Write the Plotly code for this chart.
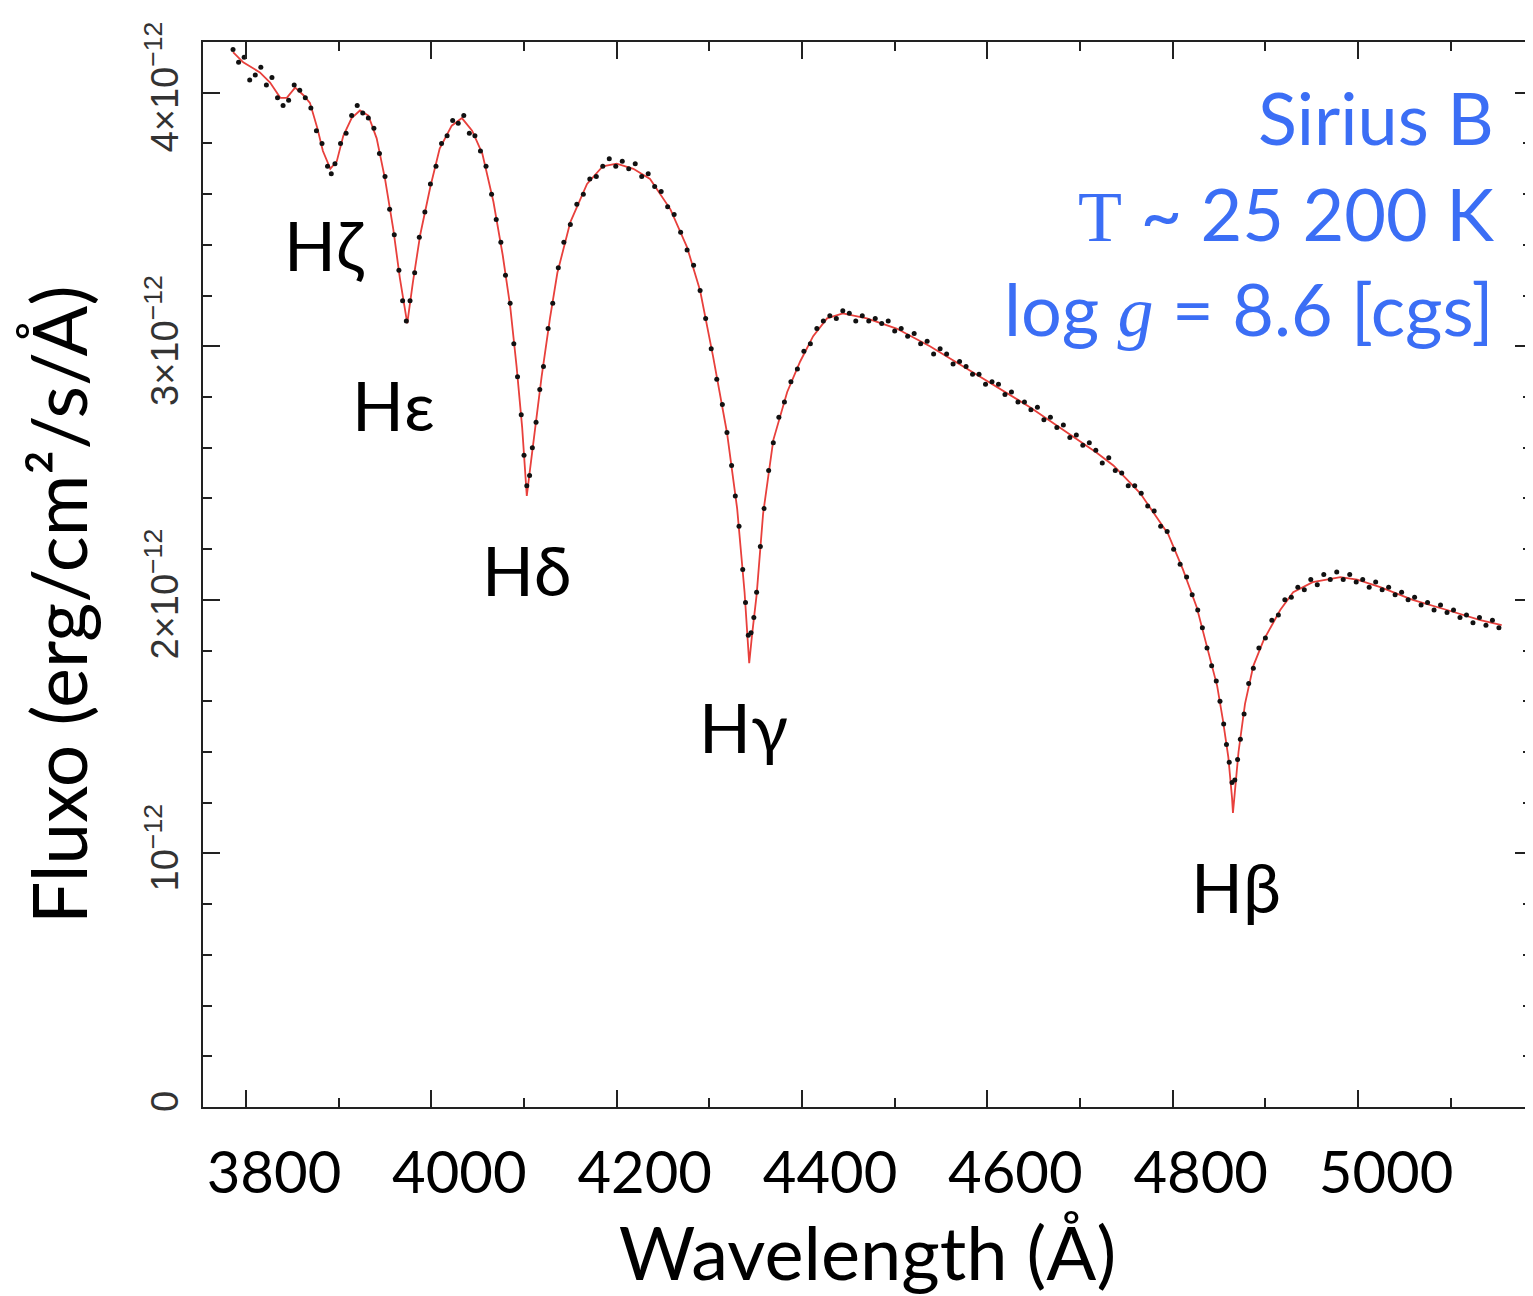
import numpy as np
import plotly.graph_objects as go

# ---------------- data (flux in units of 1e-12 erg/cm2/s/Å) ----------------
model_wl = [3786, 3797, 3815, 3826, 3837, 3844, 3853, 3862, 3869, 3877, 3883, 3891, 3898, 3905,
            3914, 3923, 3932, 3941, 3950, 3959, 3966, 3972, 3974, 3980, 3988, 3999, 4009, 4022,
            4033, 4044, 4055, 4067, 4077, 4085, 4092, 4098, 4101, 4103, 4106, 4110, 4119, 4128,
            4136, 4150, 4168, 4185, 4200, 4218, 4236, 4258, 4276, 4290, 4304, 4319, 4330, 4338,
            4341, 4343, 4346, 4351, 4358, 4369, 4384, 4398, 4412, 4427, 4444, 4470, 4502, 4538,
            4574, 4610, 4646, 4682, 4718, 4736, 4765, 4795, 4811, 4826, 4837, 4848, 4854, 4860,
            4864, 4865, 4867, 4871, 4878, 4887, 4898, 4916, 4930, 4951, 4981, 4999, 5024, 5059,
            5096, 5132, 5155]
model_flux = [4.16, 4.12, 4.08, 4.04, 3.98, 3.98, 4.02, 3.99, 3.96, 3.86, 3.77, 3.70, 3.73, 3.83,
              3.90, 3.93, 3.91, 3.82, 3.66, 3.46, 3.27, 3.12, 3.09, 3.25, 3.44, 3.63, 3.78, 3.87,
              3.90, 3.85, 3.76, 3.57, 3.36, 3.16, 2.92, 2.68, 2.52, 2.41, 2.50, 2.62, 2.88, 3.11,
              3.29, 3.49, 3.64, 3.71, 3.72, 3.70, 3.66, 3.54, 3.39, 3.22, 2.96, 2.66, 2.36, 2.03,
              1.85, 1.75, 1.86, 2.02, 2.34, 2.63, 2.82, 2.94, 3.04, 3.11, 3.13, 3.11, 3.07, 3.00,
              2.92, 2.84, 2.76, 2.67, 2.58, 2.53, 2.42, 2.26, 2.12, 1.97, 1.81, 1.66, 1.53, 1.38,
              1.22, 1.16, 1.24, 1.40, 1.59, 1.74, 1.84, 1.96, 2.03, 2.07, 2.09, 2.08, 2.05, 2.00,
              1.96, 1.92, 1.90]

obs_wl = [3786, 3792, 3798, 3804, 3810, 3816, 3822, 3828, 3834, 3840, 3846, 3852, 3858, 3864,
          3870, 3876, 3882, 3888, 3892, 3896, 3902, 3908, 3914, 3920, 3926, 3932, 3938, 3944,
          3950, 3955, 3960, 3965, 3969, 3973, 3977, 3982, 3987, 3993, 3999, 4005, 4011, 4017,
          4023, 4029, 4035, 4041, 4047, 4053, 4059, 4065, 4070, 4075, 4080, 4085, 4089, 4093,
          4097, 4100, 4103, 4106, 4109, 4113, 4117, 4121, 4126, 4131, 4137, 4143, 4150, 4157,
          4164, 4171, 4178, 4185, 4192, 4199, 4206, 4213, 4220, 4227, 4234, 4241, 4248, 4255,
          4262, 4269, 4276, 4283, 4290, 4296, 4302, 4308, 4314, 4319, 4324, 4328, 4332, 4336,
          4339, 4342, 4345, 4348, 4351, 4355, 4359, 4364, 4369, 4375, 4381, 4388, 4395, 4402,
          4409, 4416, 4423, 4430, 4437, 4444, 4451, 4458, 4465, 4472, 4479, 4486, 4493, 4500,
          4507, 4514, 4521, 4528, 4535, 4542, 4549, 4556, 4563, 4570, 4577, 4584, 4591, 4598,
          4605, 4612, 4619, 4626, 4633, 4640, 4647, 4654, 4661, 4668, 4675, 4682, 4689, 4696,
          4703, 4710, 4717, 4724, 4731, 4738, 4745, 4752, 4759, 4766, 4773, 4780, 4787, 4794,
          4801, 4808, 4815, 4821, 4827, 4832, 4837, 4842, 4847, 4851, 4855, 4858, 4861, 4864,
          4867, 4870, 4873, 4877, 4882, 4887, 4893, 4900, 4907, 4914, 4921, 4928, 4935, 4942,
          4949, 4956, 4963, 4970, 4977, 4984, 4991, 4998, 5005, 5012, 5019, 5026, 5033, 5040,
          5047, 5054, 5061, 5068, 5075, 5082, 5089, 5096, 5103, 5110, 5117, 5124, 5131, 5138,
          5145, 5152]
obs_flux = [4.17, 4.12, 4.14, 4.05, 4.07, 4.10, 4.03, 4.06, 3.98, 3.95, 3.97, 4.03, 4.01, 3.98,
            3.94, 3.85, 3.80, 3.71, 3.68, 3.72, 3.80, 3.84, 3.91, 3.95, 3.92, 3.90, 3.86, 3.76,
            3.67, 3.54, 3.44, 3.30, 3.18, 3.10, 3.18, 3.29, 3.43, 3.53, 3.64, 3.71, 3.80, 3.83,
            3.89, 3.88, 3.91, 3.84, 3.83, 3.77, 3.71, 3.60, 3.50, 3.41, 3.28, 3.17, 3.01, 2.88,
            2.73, 2.57, 2.45, 2.49, 2.60, 2.70, 2.83, 2.92, 3.07, 3.17, 3.31, 3.41, 3.48, 3.56,
            3.60, 3.66, 3.67, 3.71, 3.74, 3.71, 3.73, 3.70, 3.72, 3.67, 3.68, 3.63, 3.61, 3.55,
            3.52, 3.45, 3.38, 3.32, 3.22, 3.11, 2.99, 2.87, 2.77, 2.66, 2.53, 2.41, 2.29, 2.12,
            1.99, 1.86, 1.87, 1.93, 2.03, 2.21, 2.36, 2.51, 2.62, 2.72, 2.78, 2.86, 2.91, 2.98,
            3.01, 3.07, 3.10, 3.12, 3.11, 3.14, 3.13, 3.10, 3.12, 3.10, 3.11, 3.09, 3.10, 3.06,
            3.07, 3.04, 3.05, 3.01, 3.02, 2.97, 2.99, 2.97, 2.93, 2.94, 2.92, 2.89, 2.89, 2.85,
            2.86, 2.85, 2.81, 2.82, 2.78, 2.78, 2.75, 2.76, 2.71, 2.72, 2.68, 2.69, 2.64, 2.65,
            2.61, 2.62, 2.59, 2.54, 2.56, 2.51, 2.50, 2.45, 2.45, 2.42, 2.37, 2.35, 2.29, 2.27,
            2.20, 2.14, 2.09, 2.02, 1.96, 1.89, 1.81, 1.74, 1.68, 1.60, 1.51, 1.43, 1.36, 1.28,
            1.29, 1.37, 1.45, 1.55, 1.67, 1.73, 1.81, 1.85, 1.92, 1.94, 2.00, 2.01, 2.05, 2.04,
            2.08, 2.06, 2.10, 2.08, 2.11, 2.08, 2.10, 2.07, 2.08, 2.05, 2.07, 2.04, 2.05, 2.02,
            2.03, 2.00, 2.01, 1.98, 1.99, 1.96, 1.98, 1.95, 1.96, 1.93, 1.94, 1.91, 1.93, 1.90,
            1.92, 1.89]

line_labels = ["Hζ", "Hε", "Hδ", "Hγ", "Hβ"]
label_wl = [3884, 3959, 4103, 4337, 4868]
label_flux = [3.40, 2.77, 2.12, 1.50, 0.87]

x_tickvals = [3800, 4000, 4200, 4400, 4600, 4800, 5000]
y_tickvals = [0, 1, 2, 3, 4]
y_ticktext = ["0", "10<sup>−12</sup>", "2×10<sup>−12</sup>", "3×10<sup>−12</sup>", "4×10<sup>−12</sup>"]

info_lines = ["Sirius B",
              "<span style='font-family:Liberation Serif'>T</span> ~ 25 200 K",
              "log <span style='font-family:Liberation Serif'><i>g</i></span> = 8.6 [cgs]"]

SCALE = 1e-12
m_flux = np.array(model_flux) * SCALE
o_flux = np.array(obs_flux) * SCALE

fig = go.Figure()
fig.add_trace(go.Scatter(x=model_wl, y=m_flux, mode="lines",
                         line=dict(color="#e8403c", width=1.8), name="model",
                         showlegend=False))
fig.add_trace(go.Scatter(x=obs_wl, y=o_flux, mode="markers",
                         marker=dict(color="#111111", size=5), name="observed",
                         showlegend=False))

for t, xw, yf in zip(line_labels, label_wl, label_flux):
    fig.add_annotation(x=xw, y=yf * SCALE, text=t, showarrow=False,
                       xanchor="center", yanchor="middle",
                       font=dict(family="Lato", size=68, color="black"))

info_y = [0.930, 0.839, 0.750]
for t, yy in zip(info_lines, info_y):
    fig.add_annotation(xref="paper", yref="paper", x=0.9729, y=yy, text=t,
                       showarrow=False, xanchor="right", yanchor="middle",
                       font=dict(family="Lato", size=72, color="#3b6ef5"))

# y-axis title
fig.add_annotation(xref="paper", yref="paper", x=-0.1090, y=0.4714,
                   text="Fluxo (erg/cm²/s/Å)", textangle=-90, showarrow=False,
                   xanchor="center", yanchor="middle",
                   font=dict(family="Lato", size=75, color="black"))

axis_common = dict(showline=True, linecolor="#222", linewidth=2, mirror="allticks",
                   ticks="inside", tickcolor="#222", tickwidth=2, ticklen=17,
                   showgrid=False, zeroline=False)

fig.update_xaxes(range=[3753.6, 5187.7], tickvals=x_tickvals,
                 tickfont=dict(family="Lato", size=58, color="black"),
                 ticklabelstandoff=14, ticklabelshift=28,
                 minor=dict(tick0=3800, dtick=100, ticks="inside", ticklen=9,
                            tickwidth=2, tickcolor="#222"),
                 title=dict(text="Wavelength (Å)", font=dict(family="Lato", size=74, color="black"),
                            standoff=29),
                 **axis_common)
fig.update_yaxes(range=[0, 4.2 * SCALE], tickvals=[v * SCALE for v in y_tickvals],
                 ticktext=y_ticktext, tickangle=-90,
                 tickfont=dict(family="Liberation Sans", size=38, color="#333"),
                 ticklabelstandoff=8,
                 minor=dict(tick0=0, dtick=0.2 * SCALE, ticks="inside", ticklen=9,
                            tickwidth=2, tickcolor="#222"),
                 **axis_common)

# the page body adds an 8 px offset, so the figure is 8 px smaller
fig.update_layout(width=1525, height=1288, paper_bgcolor="white", plot_bgcolor="white",
                  margin=dict(l=195, r=1, t=34, b=189, autoexpand=False),
                  showlegend=False)

fig.write_html("out.html")
